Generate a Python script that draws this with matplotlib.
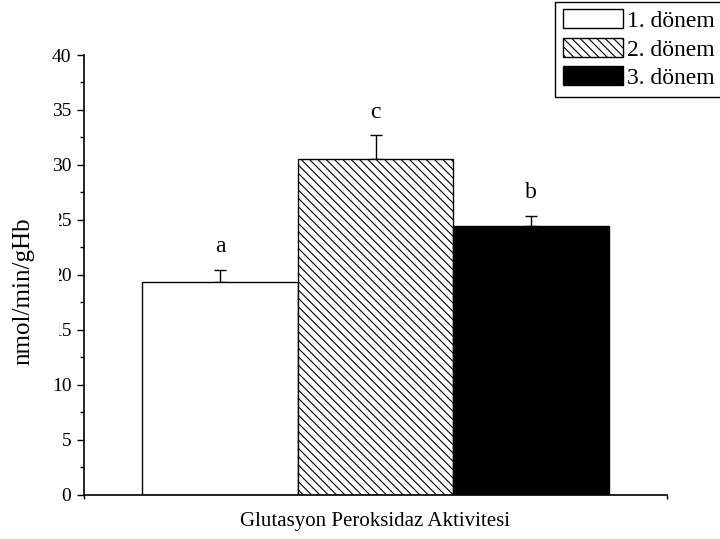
import matplotlib
matplotlib.use('Agg')
import matplotlib.pyplot as plt
from matplotlib.patches import Rectangle
from matplotlib.ticker import MultipleLocator

# ---- data ----
periods = ['1. dönem', '2. dönem', '3. dönem']
means = [19.3, 30.5, 24.4]
errors = [1.15, 2.2, 0.95]
letters = ['a', 'c', 'b']
yticks = [0, 5, 10, 15, 20, 25, 30, 35, 40]
xlabel = 'Glutasyon Peroksidaz Aktivitesi'
ylabel = 'nmol/min/gHb'

plt.rcParams['font.family'] = ['Liberation Serif', 'DejaVu Serif']
plt.rcParams['hatch.linewidth'] = 0.8

W, H = 720, 539
fig = plt.figure(figsize=(W / 100, H / 100), dpi=100)
ax = fig.add_axes([84 / W, (H - 494.5) / H, 583 / W, 439.5 / H])

faces = ['white', 'white', 'black']
hatches = ['', '\\\\\\\\', '']
xpos = [0.875 + i for i in range(len(means))]

for i in range(len(means)):
    ax.bar(xpos[i], means[i], width=1.0, color=faces[i], edgecolor='black',
           linewidth=1.0, hatch=hatches[i], label=periods[i], zorder=2)
    ax.errorbar(xpos[i], means[i], yerr=[[0], [errors[i]]], fmt='none',
                ecolor='black', elinewidth=1.0, capsize=4, capthick=1.0, zorder=1)
    ax.text(xpos[i], means[i] + errors[i] + 1.6, letters[i], ha='center',
            va='baseline', fontsize=17)

ax.set_xlim(0, 3.75)
ax.set_ylim(0, 40)
ax.set_yticks(yticks)
ax.set_yticklabels([str(v) for v in yticks])
ax.yaxis.set_minor_locator(MultipleLocator(2.5))
ax.set_xticks([0, 3.75])
ax.set_xticklabels(['', ''])
ax.tick_params(axis='y', which='major', direction='out', length=5, width=1, pad=4, labelsize=14)
ax.tick_params(axis='y', which='minor', direction='out', length=3, width=1)
ax.tick_params(axis='x', which='major', direction='out', length=3, width=1)
for s in ['top', 'right']:
    ax.spines[s].set_visible(False)
for s in ['left', 'bottom']:
    ax.spines[s].set_linewidth(1.2)

ax.set_xlabel(xlabel, fontsize=15)
ax.xaxis.set_label_coords(0.5, -(526 - 494.5) / 439.5)
ax.xaxis.label.set_verticalalignment('baseline')

# white box behind the y label (masks part of the tick labels, as in the reference)
fig.add_artist(Rectangle((0, (H - 372) / H), 59 / W, (372 - 195) / H,
                         transform=fig.transFigure, facecolor='white',
                         edgecolor='none', zorder=5))
fig.text(23 / W, (H - 291.5) / H, ylabel, rotation=90, ha='center', va='center',
         fontsize=18, zorder=10)

leg = ax.legend(loc='upper left', bbox_to_anchor=(555 / W, (H - 1.7) / H),
                bbox_transform=fig.transFigure, fontsize=17, frameon=True,
                fancybox=False, edgecolor='black', framealpha=1, borderpad=0.33,
                handlelength=2.55, handleheight=0.85, handletextpad=0.15,
                labelspacing=0.25, borderaxespad=0)
leg.get_frame().set_linewidth(1.0)

fig.savefig('out.png', dpi=100)
